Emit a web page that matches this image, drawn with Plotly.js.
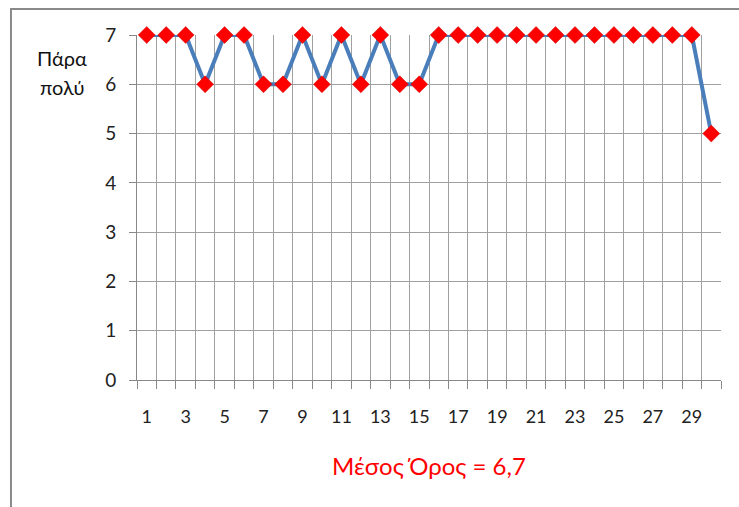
<!DOCTYPE html>
<html><head><meta charset="utf-8">
<script src="https://cdn.plot.ly/plotly-3.0.1.min.js"></script>
<style>html,body{margin:0;padding:0;background:#fff}</style>
</head><body>
<div id="chart" style="width:739px;height:507px"></div>
<script>
const respondents = [1,2,3,4,5,6,7,8,9,10,11,12,13,14,15,16,17,18,19,20,21,22,23,24,25,26,27,28,29,30];
const scores = [7,7,7,6,7,7,6,6,7,6,7,6,7,6,6,7,7,7,7,7,7,7,7,7,7,7,7,7,7,5];
const xTickLabels = [1,3,5,7,9,11,13,15,17,19,21,23,25,27,29];
const yTicks = [0,1,2,3,4,5,6,7];
const boundaries = [0.5].concat(respondents.map(v => v + 0.5));
const titleText = 'Μέσος Όρος = 6,7';
const yLabelLines = ['Πάρα', 'πολύ'];
const yLabelPos = [6.53, 5.94];

const font = 'Lato, "Open Sans", "DejaVu Sans", sans-serif';

const trace = {
  x: respondents, y: scores, type: 'scatter', mode: 'lines+markers',
  line: {color: '#4a7ebb', width: 4},
  marker: {symbol: 'diamond', color: '#ff0000', size: 13, line: {color: '#d00000', width: 0.5}},
  cliponaxis: false, hoverinfo: 'skip'
};
const dummy = {x: [1], y: [0], xaxis: 'x2', type: 'scatter', mode: 'markers', marker: {opacity: 0}, showlegend: false, hoverinfo: 'skip'};

const layout = {
  width: 739, height: 507,
  margin: {l: 137, r: 18, t: 35, b: 127},
  paper_bgcolor: '#fff', plot_bgcolor: '#fff',
  showlegend: false,
  font: {family: font, color: '#222', size: 18},
  title: {text: titleText, font: {family: font, size: 24, color: '#ff0000'},
          x: 0.5805, xref: 'container', xanchor: 'center', y: 0.079, yref: 'container', yanchor: 'middle'},
  xaxis: {range: [0.5, 30.5], tickmode: 'array', tickvals: boundaries, ticktext: boundaries.map(() => ''),
          showgrid: true, gridcolor: '#a0a0a0', gridwidth: 1,
          ticks: 'outside', ticklen: 8, tickcolor: '#888', tickwidth: 1,
          showline: true, linecolor: '#888', linewidth: 1, zeroline: false, fixedrange: true},
  xaxis2: {range: [0.5, 30.5], overlaying: 'x', side: 'bottom', tickmode: 'array',
           tickvals: xTickLabels, ticktext: xTickLabels.map(String),
           showgrid: false, ticks: '', showline: false, zeroline: false,
           tickfont: {family: font, size: 18, color: '#222'}, ticklabelstandoff: 24, fixedrange: true},
  yaxis: {range: [0, 7], tickmode: 'array', tickvals: yTicks, ticktext: yTicks.map(String),
          showgrid: true, gridcolor: '#a0a0a0', gridwidth: 1,
          ticks: 'outside', ticklen: 7, tickcolor: '#888', tickwidth: 1,
          showline: true, linecolor: '#888', linewidth: 1, zeroline: false,
          tickfont: {family: font, size: 19, color: '#222'}, ticklabelstandoff: 9, fixedrange: true},
  annotations: yLabelLines.map((t, i) => ({text: t, xref: 'paper', yref: 'y', x: -0.128, y: yLabelPos[i],
                 xanchor: 'center', yanchor: 'middle', showarrow: false,
                 font: {family: font, size: 20, color: '#111'}})),
  shapes: [{type: 'rect', xref: 'paper', yref: 'paper', x0: -0.2158, x1: 1.2, y0: -0.5, y1: 1.0754,
            line: {color: '#8a8a8a', width: 2}, fillcolor: 'rgba(0,0,0,0)', layer: 'below'}]
};

Plotly.newPlot('chart', [trace, dummy], layout, {displayModeBar: false, staticPlot: true});
</script>
</body></html>
